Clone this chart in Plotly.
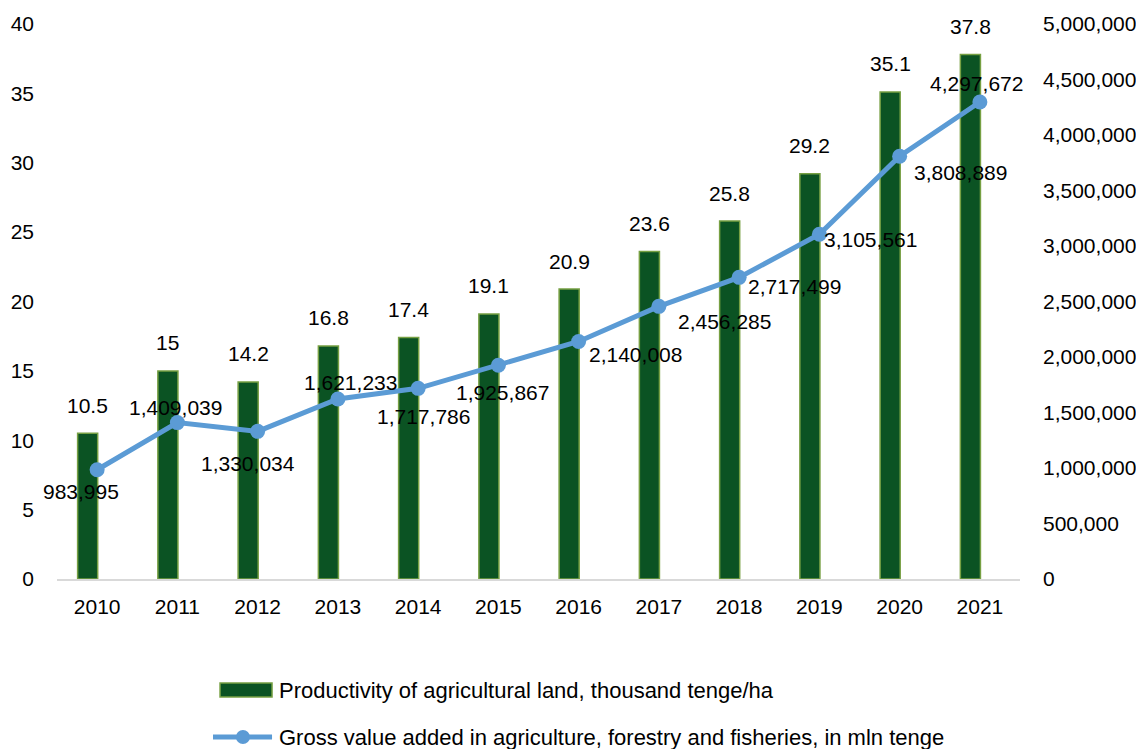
import plotly.graph_objects as go

years = ["2010", "2011", "2012", "2013", "2014", "2015", "2016", "2017", "2018", "2019", "2020", "2021"]
productivity = [10.5, 15, 14.2, 16.8, 17.4, 19.1, 20.9, 23.6, 25.8, 29.2, 35.1, 37.8]
gva = [983995, 1409039, 1330034, 1621233, 1717786, 1925867, 2140008, 2456285, 2717499, 3105561, 3808889, 4297672]
bar_name = "Productivity of agricultural land, thousand tenge/ha"
line_name = "Gross value added in agriculture, forestry and fisheries, in mln tenge"

# label offsets for line value labels (pixels)
line_label_shift = [(-16, -22), (-2, 15), (-10, -32), (13, 17), (5, -28), (4, -27),
                    (57, -13), (66, -15), (55, -9), (51, -5), (61, -16), (-3, 18)]

xpos = list(range(len(years)))

FONT = "Liberation Sans, Arial, sans-serif"
FS = 21
BAR_COLOR = "#0B5323"
BAR_EDGE = "#77A043"
LINE_COLOR = "#5B9BD5"

fig = go.Figure()
fig.add_trace(go.Bar(
    x=xpos, y=productivity, name=bar_name,
    width=0.25, offset=-0.243,
    marker=dict(color=BAR_COLOR, line=dict(color=BAR_EDGE, width=1.5)),
    showlegend=False, yaxis="y",
))
fig.add_trace(go.Scatter(
    x=xpos, y=gva, name=line_name, mode="lines+markers",
    line=dict(color=LINE_COLOR, width=5),
    marker=dict(color=LINE_COLOR, size=15),
    showlegend=False, yaxis="y2", cliponaxis=False,
))

annotations = []
for xi, v in zip(xpos, productivity):
    annotations.append(dict(
        x=xi, y=v, xref="x", yref="y", text=f"{v:g}", showarrow=False,
        xshift=-9.5, yshift=28, yanchor="middle", xanchor="center",
        font=dict(family=FONT, size=FS, color="#000000"),
    ))
for xi, v, (dx, dy) in zip(xpos, gva, line_label_shift):
    annotations.append(dict(
        x=xi, y=v, xref="x", yref="y2", text=f"{v:,}", showarrow=False,
        xshift=dx, yshift=dy, yanchor="middle", xanchor="center",
        font=dict(family=FONT, size=FS, color="#000000"),
    ))

# manual legend
annotations.append(dict(x=0.2284, y=-0.200, xref="paper", yref="paper", text=bar_name,
                        showarrow=False, xanchor="left", yanchor="middle",
                        font=dict(family=FONT, size=22, color="#000000")))
annotations.append(dict(x=0.2284, y=-0.2847, xref="paper", yref="paper", text=line_name,
                        showarrow=False, xanchor="left", yanchor="middle",
                        font=dict(family=FONT, size=22, color="#000000")))
shapes = [
    dict(type="rect", xref="paper", yref="paper", x0=0.1693, x1=0.2233, y0=-0.2126, y1=-0.1874,
         fillcolor=BAR_COLOR, line=dict(color=BAR_EDGE, width=1.5)),
    dict(type="line", xref="paper", yref="paper", x0=0.1620, x1=0.2233, y0=-0.2847, y1=-0.2847,
         line=dict(color=LINE_COLOR, width=5)),
    dict(type="circle", xref="paper", yref="paper", xsizemode="pixel", ysizemode="pixel",
         xanchor=0.1931, yanchor=-0.2847, x0=-7, x1=7, y0=-7, y1=7,
         fillcolor=LINE_COLOR, line=dict(color=LINE_COLOR, width=0)),
]

# page body adds an 8px margin; figure is sized/offset to compensate
fig.update_layout(
    width=1136, height=741,
    margin=dict(l=49, r=124, t=16, b=170, autoexpand=False),
    plot_bgcolor="white", paper_bgcolor="white",
    font=dict(family=FONT, size=FS, color="#000000"),
    showlegend=False,
    xaxis=dict(range=[-0.5, 11.5], tickvals=xpos, ticktext=years, showgrid=False, zeroline=False,
               showline=True, linecolor="#D9D9D9", linewidth=1.5, ticks="", automargin=False,
               tickfont=dict(family=FONT, size=FS, color="#000000"), ticklabelstandoff=8),
    yaxis=dict(range=[0, 40], dtick=5, showgrid=False, zeroline=False, showline=False,
               ticks="", automargin=False, tickfont=dict(family=FONT, size=FS, color="#000000"),
               ticklabelstandoff=22),
    yaxis2=dict(range=[0, 5000000], dtick=500000, overlaying="y", side="right",
                showgrid=False, zeroline=False, showline=False, ticks="", automargin=False,
                tickformat=",", tickfont=dict(family=FONT, size=FS, color="#000000"),
                ticklabelstandoff=22),
    annotations=annotations, shapes=shapes,
)

fig.write_html("out.html")
